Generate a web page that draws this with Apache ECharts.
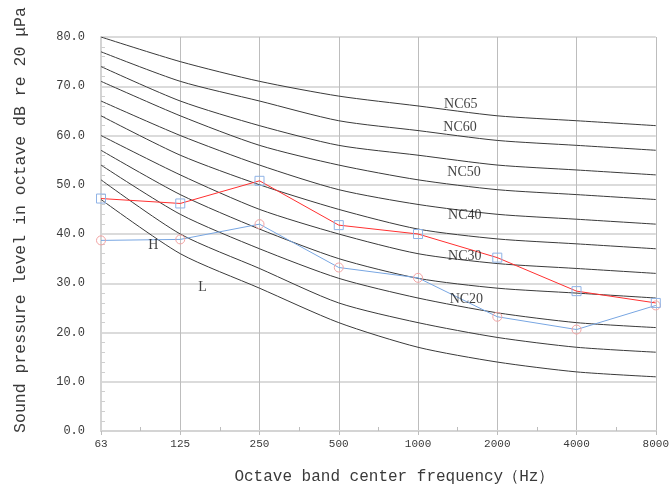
<!DOCTYPE html>
<html><head><meta charset="utf-8">
<script src="https://cdn.jsdelivr.net/npm/echarts@6/dist/echarts.min.js"></script>
<style>html,body{margin:0;padding:0;background:#fff}#c{width:672px;height:493px}</style>
</head><body><div id="c"></div>
<script>
const categories = ['63','125','250','500','1000','2000','4000','8000'];
const nc15 = [47,36,29,22,17,14,12,11];
const nc20 = [51,40,33,26,22,19,17,16];
const nc25 = [54,44,37,31,27,24,22,21];
const nc30 = [57,48,41,35,31,29,28,27];
const nc35 = [60,52,45,40,36,34,33,32];
const nc40 = [64,56,50,45,41,39,38,37];
const nc45 = [67,60,54,49,46,44,43,42];
const nc50 = [71,64,58,54,51,49,48,47];
const nc55 = [74,67,62,58,56,54,53,52];
const nc60 = [77,71,67,63,61,59,58,57];
const nc65 = [80,75,71,68,66,64,63,62];
const highValues = [47.2,46.2,50.8,41.8,40.0,35.2,28.4,26.0];
const lowValues = [38.7,38.9,42.0,33.2,31.1,23.2,20.6,25.5];
const yTicks = [0,10,20,30,40,50,60,70,80];
const annotations = [
  {name:'NC65', x:4.54, y:66.3},
  {name:'NC60', x:4.53, y:61.6},
  {name:'NC50', x:4.58, y:52.6},
  {name:'NC40', x:4.59, y:43.8},
  {name:'NC30', x:4.59, y:35.5},
  {name:'NC20', x:4.61, y:26.7},
  {name:'H', x:0.66, y:37.7},
  {name:'L', x:1.28, y:29.2}
];
const ncCurves = [nc15,nc20,nc25,nc30,nc35,nc40,nc45,nc50,nc55,nc60,nc65];
const toPts = arr => arr.map((v,i)=>[i,v]);
const mono = '"Liberation Mono", "DejaVu Sans Mono", monospace';
const series = [];
ncCurves.forEach((c,k)=>{
  series.push({type:'line', name:'NC'+(15+5*k), data:toPts(c), smooth:0.25, symbol:'none',
    lineStyle:{color:'#3a3a3a', width:1}, z:2, silent:true});
});
series.push({type:'line', name:'H', data:toPts(highValues), symbol:'rect', symbolSize:9,
  lineStyle:{color:'#ff3030', width:1}, itemStyle:{color:'rgba(0,0,0,0)', borderColor:'#8fb3e6', borderWidth:1}, z:4});
series.push({type:'line', name:'L', data:toPts(lowValues), symbol:'circle', symbolSize:9,
  lineStyle:{color:'#78a6e2', width:1}, itemStyle:{color:'rgba(0,0,0,0)', borderColor:'#f2a3a3', borderWidth:1}, z:3});
series.push({type:'scatter', data:annotations.map(a=>({name:a.name, value:[a.x,a.y]})), symbolSize:0,
  label:{show:true, position:'inside', formatter:p=>p.name, fontFamily:'"Liberation Serif", serif', fontSize:14, color:'#111'}, z:6, silent:true});
const chart = echarts.init(document.getElementById('c'), null, {renderer:'canvas'});
chart.setOption({
  animation:false,
  grid:{left:101, right:15, top:37, bottom:62},
  xAxis:[{
    type:'value', min:0, max:categories.length-1, interval:1,
    name:'Octave band center frequency（Hz）', nameLocation:'middle', nameGap:38,
    nameTextStyle:{fontFamily:mono, fontSize:16, color:'#3a3a3a', padding:[0,0,0,32]},
    axisLine:{show:true, lineStyle:{color:'#d4d4d4', width:2}},
    axisTick:{show:true, length:4, lineStyle:{color:'#bdbdbd'}},
    axisLabel:{formatter:v=>categories[v]||'', fontFamily:mono, fontSize:11, color:'#3a3a3a', margin:8},
    splitLine:{show:true, lineStyle:{color:'#bdbdbd', width:1}}
  },{
    type:'value', min:0, max:categories.length-1, interval:1, position:'bottom',
    axisLine:{show:false}, axisTick:{show:false, inside:true}, axisLabel:{show:false}, splitLine:{show:false},
    minorTick:{show:true, splitNumber:2, length:4, lineStyle:{color:'#bdbdbd'}}
  }],
  yAxis:{
    type:'value', min:yTicks[0], max:yTicks[yTicks.length-1], interval:10,
    name:'Sound pressure level in octave dB re 20 μPa', nameLocation:'middle', nameGap:72,
    nameTextStyle:{fontFamily:mono, fontSize:16.5, color:'#3a3a3a', padding:[0,0,0,28]},
    axisLine:{show:true, lineStyle:{color:'#d4d4d4', width:2}},
    axisTick:{show:false, inside:true},
    minorTick:{show:true, splitNumber:5, length:4, lineStyle:{color:'#cfcfcf'}},
    axisLabel:{formatter:v=>v.toFixed(1), fontFamily:mono, fontSize:12, color:'#3a3a3a', margin:16},
    splitLine:{show:true, lineStyle:{color:'#cfcfcf', width:1.5}}
  },
  series:series
});
</script></body></html>
